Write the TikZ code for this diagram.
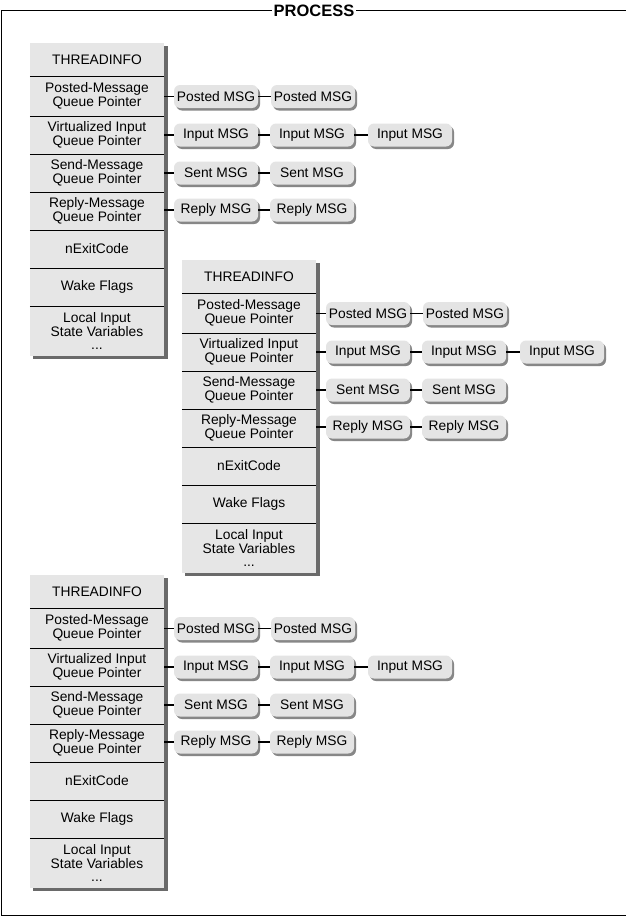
\documentclass[tikz,border=0pt]{standalone}
\usepackage{fontspec}
\setmainfont{Liberation Sans}
\usetikzlibrary{shadows}
\definecolor{boxgray}{HTML}{E6E6E6}
\definecolor{pillgray}{HTML}{E4E4E4}
\definecolor{shadegray}{HTML}{6A6A6A}
\tikzset{
  rowbox/.style={rectangle, minimum width=134pt, fill=boxgray, inner sep=0pt,
    align=center, anchor=center, font=\fontsize{13.8}{13.8}\selectfont},
  pill/.style={rectangle, rounded corners=6pt, minimum width=84pt, minimum height=23pt,
    inner sep=0pt, fill=pillgray, font=\fontsize{13.8}{14}\selectfont,
    drop shadow={shadow xshift=2pt, shadow yshift=-2.5pt, fill=shadegray, opacity=0.8}},
  sepline/.style={line width=0.9pt, black},
  conn/.style={line width=1.4pt, black},
  frameline/.style={line width=1pt, black},
}
\newcommand\ThreadBlock[3]{%
 \begin{scope}[shift={(#2,#3)}]
  \fill[shadegray] (3,3) rectangle (137.5,316);
  \node[rowbox, minimum height=33pt] (#1t) at (67,16.5) {THREADINFO};
  \node[rowbox, minimum height=40pt] (#1p) at (67,53) {Posted-Message\\Queue Pointer};
  \node[rowbox, minimum height=38pt] (#1v) at (67,92) {Virtualized Input\\Queue Pointer};
  \node[rowbox, minimum height=38pt] (#1s) at (67,130) {Send-Message\\Queue Pointer};
  \node[rowbox, minimum height=38pt] (#1r) at (67,168) {Reply-Message\\Queue Pointer};
  \node[rowbox, minimum height=38pt] (#1n) at (67,206) {nExitCode};
  \node[rowbox, minimum height=38pt] (#1w) at (67,244) {Wake Flags};
  \node[rowbox, minimum height=50pt] (#1l) at (67,288) {Local Input\\State Variables\\...};
  \foreach \r in {t,p,v,s,r,n,w}{
    \draw[sepline] (#1\r.south west) -- (#1\r.south east);
  }
  \node[pill] (#1pa) at (186,53.5) {Posted MSG};
  \node[pill] (#1pb) at (283,53.5) {Posted MSG};
  \node[pill] (#1va) at (186,92) {Input MSG};
  \node[pill] (#1vb) at (282,92) {Input MSG};
  \node[pill] (#1vc) at (380,92) {Input MSG};
  \node[pill] (#1sa) at (186,130) {Sent MSG};
  \node[pill] (#1sb) at (282,130) {Sent MSG};
  \node[pill] (#1ra) at (186,167) {Reply MSG};
  \node[pill] (#1rb) at (282,167) {Reply MSG};
  \draw[conn] (#1p.east |- #1pa.west) -- (#1pa.west);
  \draw[conn] (#1pa.east) -- (#1pb.west);
  \draw[conn] (#1v.east |- #1va.west) -- (#1va.west);
  \draw[conn] (#1va.east) -- (#1vb.west);
  \draw[conn] (#1vb.east) -- (#1vc.west);
  \draw[conn] (#1s.east |- #1sa.west) -- (#1sa.west);
  \draw[conn] (#1sa.east) -- (#1sb.west);
  \draw[conn] (#1r.east |- #1ra.west) -- (#1ra.west);
  \draw[conn] (#1ra.east) -- (#1rb.west);
 \end{scope}}
\begin{document}
\begin{tikzpicture}[x=1pt,y=-1pt]
  \useasboundingbox (0,0) rectangle (626,918);
  \fill[white] (0,0) rectangle (626,918);
  \coordinate (ftl) at (1.5,10.5);
  \coordinate (ftr) at (626,10.5);
  \coordinate (fbl) at (1.5,915.5);
  \coordinate (fbr) at (626,915.5);
  \draw[frameline] (ftr) -- (ftl) -- (fbl) -- (fbr);
  \node[fill=white, inner xsep=1.5pt, inner ysep=0pt, font=\fontsize{16.5}{18}\selectfont\bfseries] (title) at (314,11) {PROCESS};
  \ThreadBlock{a}{30}{43}
  \ThreadBlock{b}{182}{260}
  \ThreadBlock{c}{30}{575}
\end{tikzpicture}
\end{document}
